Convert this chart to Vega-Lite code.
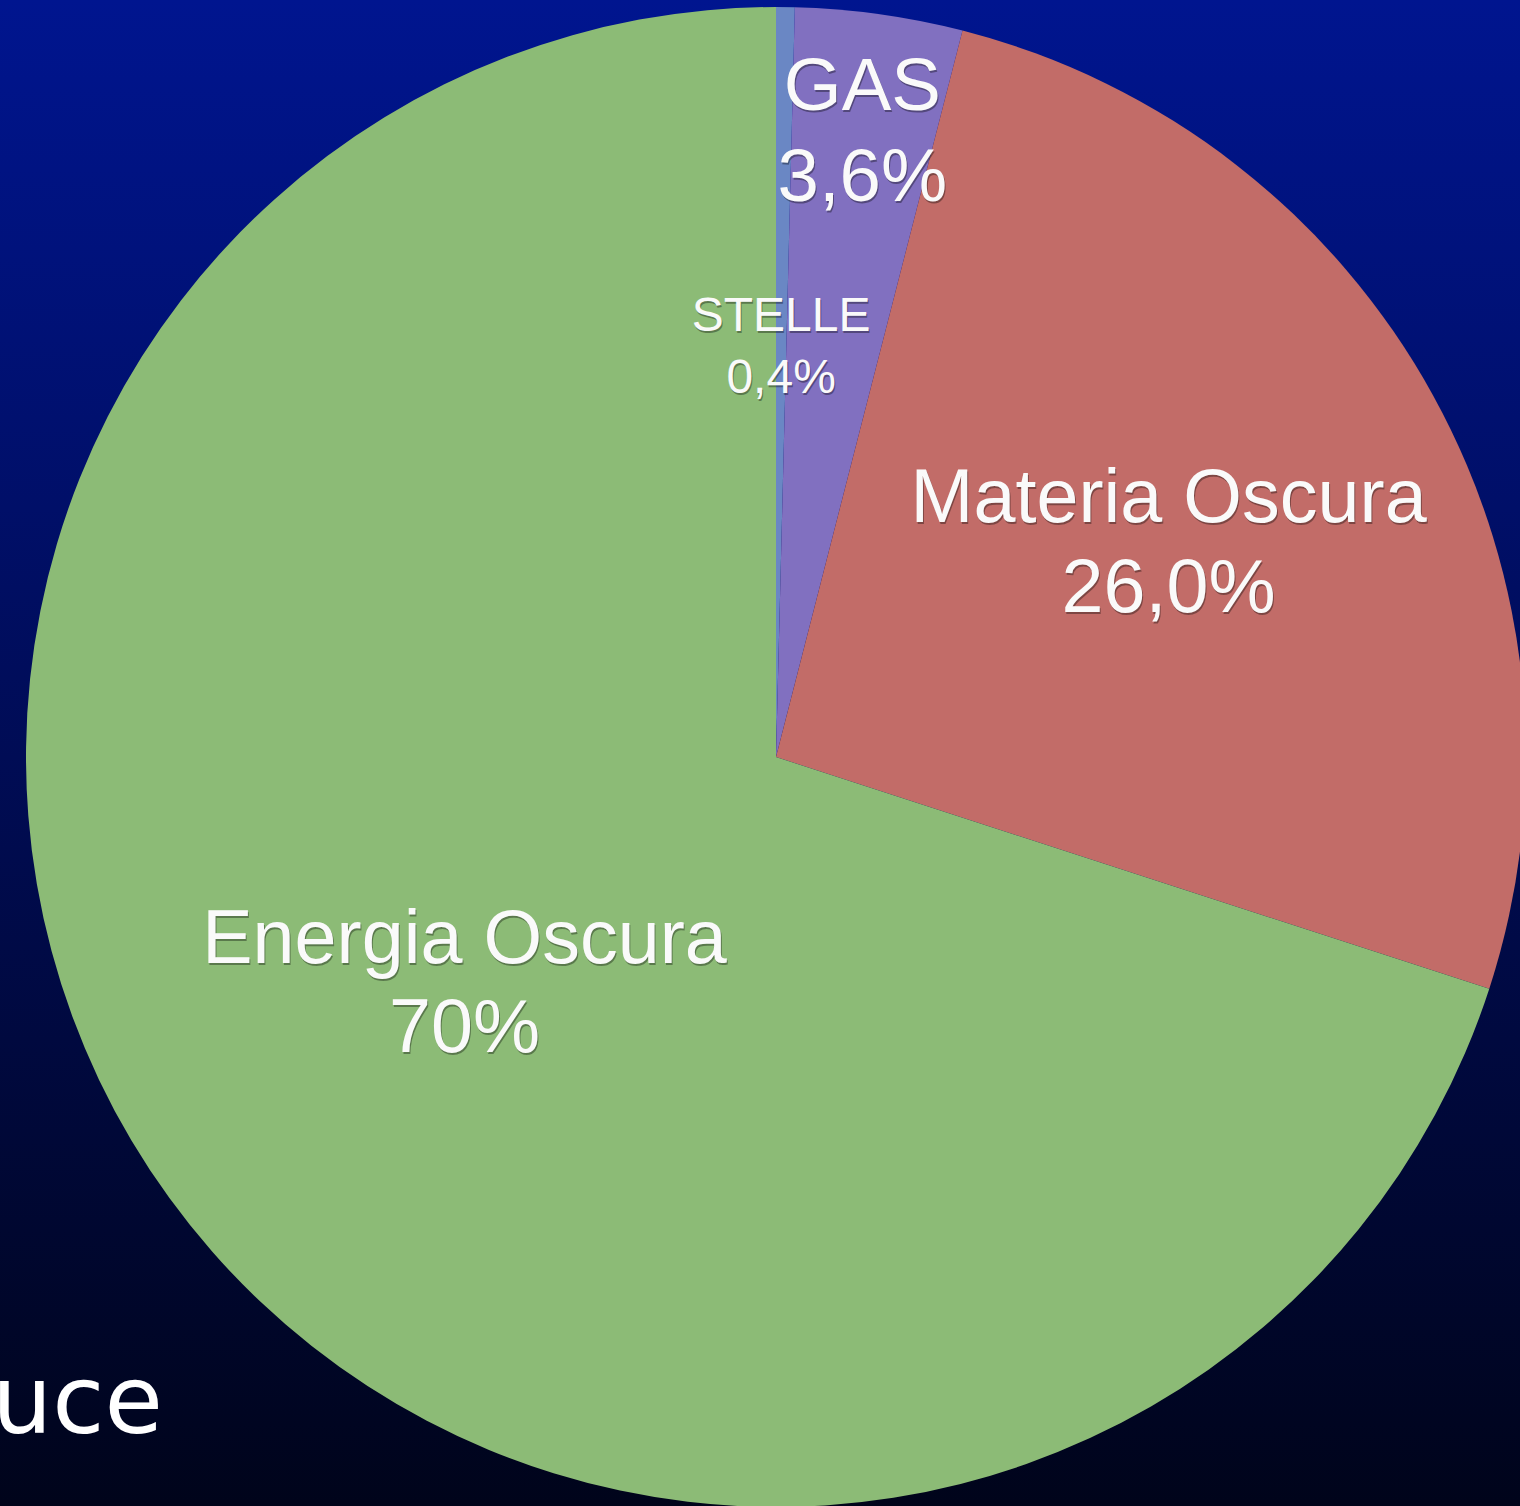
{
  "$schema": "https://vega.github.io/schema/vega-lite/v6.json",
  "width": 1552,
  "height": 1514,
  "autosize": "none",
  "padding": {"left": 0, "top": 0, "right": -32, "bottom": -8},
  "background": "#000c55",
  "title": {
    "text": "uce",
    "orient": "bottom",
    "anchor": "start",
    "frame": "group",
    "offset": -81,
    "baseline": "alphabetic",
    "dx": -8,
    "font": "DejaVu Sans",
    "fontSize": 95,
    "fontWeight": "normal",
    "color": "#ffffff"
  },
  "config": {"view": {"stroke": null}},
  "layer": [
    {
      "data": {"values": [{"sfondo": "slide"}]},
      "mark": {
        "type": "rect",
        "fill": {
          "gradient": "linear",
          "x1": 0, "y1": 0, "x2": 0, "y2": 1,
          "stops": [
            {"offset": 0, "color": "#00158f"},
            {"offset": 0.5, "color": "#000c55"},
            {"offset": 1, "color": "#00041a"}
          ]
        }
      },
      "encoding": {}
    },
    {
      "data": {
        "values": [
          {"componente": "STELLE", "quota": 0.4, "etichetta": "0,4%"},
          {"componente": "GAS", "quota": 3.6, "etichetta": "3,6%"},
          {"componente": "Materia Oscura", "quota": 26.0, "etichetta": "26,0%"},
          {"componente": "Energia Oscura", "quota": 70, "etichetta": "70%"}
        ]
      },
      "transform": [
        {"calculate": "datum.componente + '\\n' + datum.etichetta", "as": "testo"}
      ],
      "encoding": {
        "theta": {"field": "quota", "type": "quantitative", "stack": true},
        "order": {"field": "quota", "type": "quantitative", "sort": "ascending"}
      },
      "layer": [
        {
          "mark": {"type": "arc", "outerRadius": 750, "stroke": null},
          "encoding": {
            "color": {
              "field": "componente",
              "type": "nominal",
              "scale": {
                "domain": ["STELLE", "GAS", "Materia Oscura", "Energia Oscura"],
                "range": ["#6a87c4", "#8170c0", "#c26c68", "#8cbb76"]
              },
              "legend": null
            }
          }
        },
        {
          "mark": {"type": "text", "radius": 408, "font": "Liberation Sans", "fontSize": 48, "lineHeight": 62, "lineBreak": "\n", "align": "center", "baseline": "middle", "fill": "#000000", "opacity": 0.35, "dx": 1, "dy": -30},
          "encoding": {"text": {"condition": {"test": "datum.componente === 'STELLE'", "field": "testo", "type": "nominal"}, "value": ""}}
        },
        {
          "mark": {"type": "text", "radius": 408, "font": "Liberation Sans", "fontSize": 48, "lineHeight": 62, "lineBreak": "\n", "align": "center", "baseline": "middle", "fill": "#fafafa", "dy": -32},
          "encoding": {"text": {"condition": {"test": "datum.componente === 'STELLE'", "field": "testo", "type": "nominal"}, "value": ""}}
        },
        {
          "mark": {"type": "text", "radius": 627, "font": "Liberation Sans", "fontSize": 74.5, "lineHeight": 91, "lineBreak": "\n", "align": "center", "baseline": "middle", "fill": "#000000", "opacity": 0.35, "dx": 1, "dy": -46},
          "encoding": {"text": {"condition": {"test": "datum.componente === 'GAS'", "field": "testo", "type": "nominal"}, "value": ""}}
        },
        {
          "mark": {"type": "text", "radius": 627, "font": "Liberation Sans", "fontSize": 74.5, "lineHeight": 91, "lineBreak": "\n", "align": "center", "baseline": "middle", "fill": "#fafafa", "dy": -48},
          "encoding": {"text": {"condition": {"test": "datum.componente === 'GAS'", "field": "testo", "type": "nominal"}, "value": ""}}
        },
        {
          "mark": {"type": "text", "radius": 448, "font": "Liberation Sans", "fontSize": 75.5, "lineHeight": 90, "lineBreak": "\n", "align": "center", "baseline": "middle", "fill": "#000000", "opacity": 0.35, "dx": 1, "dy": -40},
          "encoding": {"text": {"condition": {"test": "datum.componente === 'Materia Oscura'", "field": "testo", "type": "nominal"}, "value": ""}}
        },
        {
          "mark": {"type": "text", "radius": 448, "font": "Liberation Sans", "fontSize": 75.5, "lineHeight": 90, "lineBreak": "\n", "align": "center", "baseline": "middle", "fill": "#fafafa", "dy": -42},
          "encoding": {"text": {"condition": {"test": "datum.componente === 'Materia Oscura'", "field": "testo", "type": "nominal"}, "value": ""}}
        },
        {
          "mark": {"type": "text", "radius": 385, "font": "Liberation Sans", "fontSize": 75.5, "lineHeight": 89, "lineBreak": "\n", "align": "center", "baseline": "middle", "fill": "#000000", "opacity": 0.35, "dx": 1, "dy": -41},
          "encoding": {"text": {"condition": {"test": "datum.componente === 'Energia Oscura'", "field": "testo", "type": "nominal"}, "value": ""}}
        },
        {
          "mark": {"type": "text", "radius": 385, "font": "Liberation Sans", "fontSize": 75.5, "lineHeight": 89, "lineBreak": "\n", "align": "center", "baseline": "middle", "fill": "#fafafa", "dy": -43},
          "encoding": {"text": {"condition": {"test": "datum.componente === 'Energia Oscura'", "field": "testo", "type": "nominal"}, "value": ""}}
        }
      ]
    }
  ]
}
